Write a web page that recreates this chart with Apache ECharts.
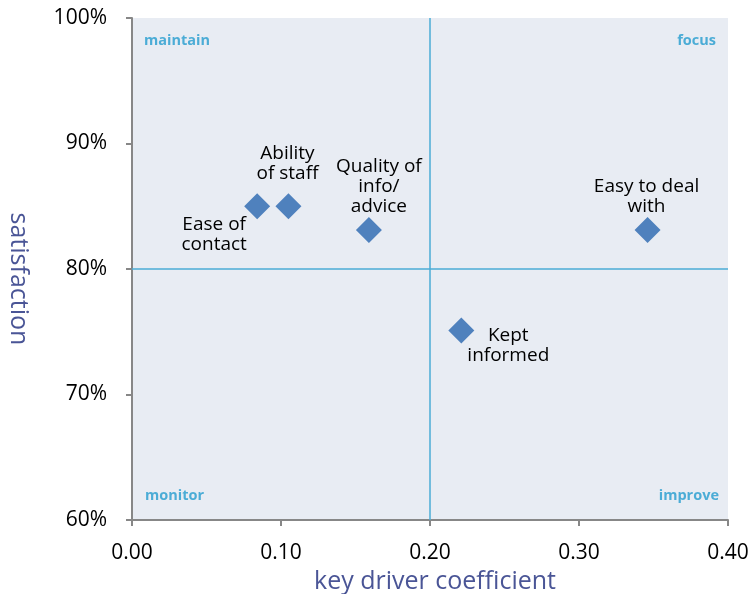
<!DOCTYPE html>
<html>
<head>
<meta charset="utf-8">
<script src="https://cdn.jsdelivr.net/npm/echarts@6/dist/echarts.min.js"></script>
<style>
  html, body { margin: 0; padding: 0; background: #ffffff; }
  #chart { width: 756px; height: 594px; }
</style>
</head>
<body>
<div id="chart"></div>
<script>
// Key driver matrix: driver coefficient vs. satisfaction
const drivers = ['Ease of\ncontact', 'Ability\nof staff', 'Quality of\ninfo/\nadvice', 'Easy to deal\nwith', 'Kept\ninformed'];
const coefficients = [0.084, 0.105, 0.159, 0.346, 0.221];
const satisfaction = [0.85, 0.85, 0.831, 0.831, 0.751];
const xTicks = [0, 0.1, 0.2, 0.3, 0.4];
const yTicks = [0.6, 0.7, 0.8, 0.9, 1.0];
const quadrantNames = ['maintain', 'focus', 'monitor', 'improve'];
const splitX = 0.2;
const splitY = 0.8;

// Offset of each driver's label centre from its marker centre (px)
const labelOffsets = [[-43, 28], [-1, -43], [10, -44], [-1, -34], [47, 15]];

const FONT = '"Open Sans", "Noto Sans", sans-serif';
const chart = echarts.init(document.getElementById('chart'), null, { renderer: 'canvas' });

const points = drivers.map((name, i) => ({
  name: name,
  value: [coefficients[i], satisfaction[i]],
  label: { offset: labelOffsets[i] }
}));

const quadrantText = (text, pos) => Object.assign({
  type: 'text',
  z: 10,
  style: {
    text: text,
    font: 'bold 14.5px ' + FONT,
    fill: '#4bacd6'
  }
}, pos);

const axisCommon = {
  type: 'value',
  nameLocation: 'middle',
  axisLine: { show: true, onZero: false, lineStyle: { color: '#878787', width: 2 } },
  axisTick: { show: true, length: 6, lineStyle: { color: '#878787', width: 2 } },
  splitLine: { show: false }
};

chart.setOption({
  animation: false,
  backgroundColor: '#ffffff',
  grid: {
    left: 132, right: 28, top: 18, bottom: 74,
    outerBoundsMode: 'none', containLabel: false,
    show: true, backgroundColor: '#e8ecf3', borderWidth: 0
  },
  xAxis: Object.assign({}, axisCommon, {
    min: xTicks[0],
    max: xTicks[xTicks.length - 1],
    interval: 0.1,
    name: 'key driver coefficient',
    nameGap: 43,
    nameTextStyle: { color: '#4a5596', fontSize: 25, fontFamily: FONT, padding: [0, 0, 0, 10] },
    axisLabel: {
      color: '#000000', fontSize: 21, fontFamily: FONT, margin: 23,
      formatter: v => v.toFixed(2)
    }
  }),
  yAxis: Object.assign({}, axisCommon, {
    min: yTicks[0],
    max: yTicks[yTicks.length - 1],
    interval: 0.1,
    name: 'satisfaction',
    nameGap: 101,
    nameRotate: -90,
    nameTextStyle: { color: '#4a5596', fontSize: 25, fontFamily: FONT, padding: [0, 0, 0, 20] },
    axisLabel: {
      color: '#000000', fontSize: 21, fontFamily: FONT, margin: 25,
      formatter: v => Math.round(v * 100) + '%'
    }
  }),
  graphic: [
    quadrantText(quadrantNames[0], { left: 144, top: 33 }),
    quadrantText(quadrantNames[1], { right: 40, top: 33 }),
    quadrantText(quadrantNames[2], { left: 145, top: 488 }),
    quadrantText(quadrantNames[3], { right: 37, top: 488 })
  ],
  series: [{
    type: 'scatter',
    symbol: 'diamond',
    symbolSize: [26, 26],
    itemStyle: { color: '#4f81bd', opacity: 1 },
    label: {
      show: true,
      position: 'inside',
      align: 'center',
      verticalAlign: 'middle',
      formatter: p => p.name,
      color: '#000000',
      fontSize: 19,
      lineHeight: 20,
      fontFamily: FONT
    },
    data: points,
    markLine: {
      silent: true,
      symbol: 'none',
      label: { show: false },
      lineStyle: { color: '#4bacd6', width: 1.5, type: 'solid' },
      data: [{ xAxis: splitX }, { yAxis: splitY }]
    },
    z: 5
  }]
});
</script>
</body>
</html>
